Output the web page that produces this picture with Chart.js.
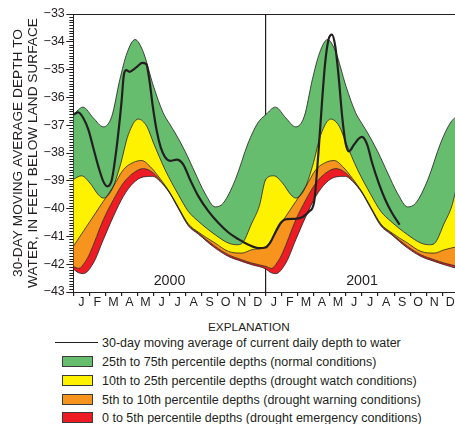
<!DOCTYPE html>
<html><head><meta charset="utf-8">
<script src="https://cdn.jsdelivr.net/npm/chart.js@4/dist/chart.umd.min.js"></script>
<style>
html,body{margin:0;padding:0;background:#fff;overflow:hidden;width:455px;height:424px;}
#c{position:absolute;left:0;top:0;}
.lg{position:absolute;font-family:'Liberation Sans',Arial,sans-serif;color:#231f20;font-size:12.5px;line-height:14px;white-space:nowrap;}
.sw{position:absolute;box-sizing:border-box;border:1px solid #3a3a3a;}
.ln{position:absolute;height:0;border-top:1.6px solid #231f20;}
</style></head>
<body>
<canvas id="c" width="460" height="310"></canvas>
<div class="lg" style="left:208px;top:320px;font-size:11.8px;">EXPLANATION</div>
<div class="ln" style="left:55px;top:342px;width:43px;"></div>
<div class="lg" style="left:102px;top:336px;">30-day moving average of current daily depth to water</div>
<div class="sw" style="left:62px;top:356px;width:31px;height:11px;background:#66bd6e;"></div>
<div class="lg" style="left:102px;top:355px;">25th to 75th percentile depths (normal conditions)</div>
<div class="sw" style="left:62px;top:375px;width:31px;height:11px;background:#fff200;"></div>
<div class="lg" style="left:102px;top:374px;">10th to 25th percentile depths (drought watch conditions)</div>
<div class="sw" style="left:62px;top:394px;width:31px;height:11px;background:#f7941d;"></div>
<div class="lg" style="left:102px;top:392.5px;">5th to 10th percentile depths (drought warning conditions)</div>
<div class="sw" style="left:62px;top:412px;width:31px;height:11px;background:#ed1c24;"></div>
<div class="lg" style="left:102px;top:410.5px;">0 to 5th percentile depths (drought emergency conditions)</div>
<script>
const monthLetters = ['J','F','M','A','M','J','J','A','S','O','N','D'];
const yearLabels = ['2000','2001'];
const yTicks = [-43,-42,-41,-40,-39,-38,-37,-36,-35,-34,-33];

// Seasonal percentile boundaries: [month of year, depth to water (ft)]
const p75 = [[0,-36.62],[0.6,-36.35],[1.25,-36.74],[1.87,-37.06],[2.4,-36.68],[2.9,-35.36],[3.35,-34.4],[3.85,-33.92],[4.35,-34.35],[5.0,-35.6],[5.6,-36.55],[6.0,-36.95],[6.35,-37.28],[6.97,-37.94],[7.6,-38.72],[8.2,-39.44],[8.85,-39.94],[9.35,-39.8],[10.1,-38.96],[10.9,-37.64],[11.5,-36.92],[12,-36.62]];
const p25 = [[0,-38.95],[0.5,-38.82],[1.04,-39.08],[1.56,-39.5],[1.87,-39.62],[2.4,-39.32],[2.91,-38.48],[3.43,-37.34],[4.05,-36.78],[4.58,-37.04],[5.0,-37.64],[5.72,-38.6],[6.55,-39.5],[7.17,-40.1],[7.8,-40.46],[8.84,-40.94],[9.67,-41.24],[10.2,-41.3],[10.5,-41.26],[11.13,-40.52],[11.6,-39.9],[12,-38.95]];
const p10 = [[0,-41.36],[1.04,-40.46],[1.87,-39.74],[2.5,-39.2],[3.12,-38.6],[3.74,-38.34],[4.27,-38.27],[4.78,-38.48],[5.41,-38.92],[6.0,-39.4],[6.55,-39.95],[7.17,-40.55],[7.8,-40.85],[8.84,-41.24],[9.67,-41.54],[10.5,-41.6],[11.13,-41.48],[12,-41.36]];
const p5 = [[0,-42.08],[0.35,-42.15],[0.7,-41.95],[1.04,-41.6],[1.87,-40.4],[2.5,-39.68],[3.12,-39.08],[3.74,-38.72],[4.37,-38.56],[4.99,-38.72],[5.41,-38.98],[6.0,-39.42],[6.55,-39.98],[7.17,-40.58],[7.8,-40.88],[8.84,-41.36],[9.67,-41.66],[10.5,-41.84],[11.13,-41.96],[12,-42.08]];
const p0 = [[0,-42.17],[0.3,-42.3],[0.62,-42.34],[1.25,-41.96],[1.87,-41.12],[2.5,-40.28],[3.12,-39.56],[3.74,-39.08],[4.37,-38.86],[4.95,-38.84],[5.41,-39.02],[6.0,-39.44],[6.55,-40.0],[7.17,-40.62],[7.8,-40.92],[8.84,-41.42],[9.67,-41.72],[10.5,-41.9],[11.13,-42.02],[12,-42.17]];

// 30-day moving average, [months since Jan 1 2000, depth]
const movingAvg = [[0,-36.62],[0.31,-36.54],[0.62,-36.74],[0.94,-37.16],[1.25,-37.82],[1.56,-38.48],[1.87,-39.02],[2.12,-39.2],[2.4,-38.96],[2.71,-37.76],[3.0,-36.2],[3.15,-35.2],[3.3,-35.02],[3.5,-35.08],[3.7,-35.02],[4.0,-34.88],[4.3,-34.76],[4.55,-34.8],[4.75,-35.4],[4.95,-36.3],[5.2,-37.2],[5.45,-37.8],[5.72,-38.15],[6.03,-38.28],[6.45,-38.24],[6.86,-38.42],[7.28,-38.96],[7.8,-39.56],[8.43,-40.1],[9.05,-40.52],[9.67,-40.86],[10.29,-41.1],[10.92,-41.3],[11.54,-41.42],[12,-41.4],
 [12.3,-41.2],[12.6,-40.85],[12.95,-40.5],[13.3,-40.38],[13.8,-40.37],[14.3,-40.3],[14.7,-40.1],[15.0,-39.8],[15.28,-38.0],[15.5,-36.2],[15.7,-34.76],[15.91,-33.92],[16.12,-33.74],[16.33,-34.16],[16.54,-35.24],[16.76,-36.68],[16.97,-37.64],[17.18,-37.94],[17.5,-37.7],[17.8,-37.48],[18.0,-37.42],[18.32,-37.7],[18.63,-38.36],[19.04,-39.08],[19.45,-39.68],[19.87,-40.16],[20.34,-40.58]];

const INK = '#231f20';
const FONT = "'Liberation Sans', Arial, sans-serif";

function twoYears(arr){
  const a = arr.map(([m,v]) => ({x:m, y:v}));
  const b = arr.slice(1).map(([m,v]) => ({x:m+12, y:v}));
  return a.concat(b);
}
function band(label, arr, fillColor, fill){
  return {label, data: twoYears(arr), borderColor: INK, borderWidth: 0.8,
    backgroundColor: fillColor, fill, pointRadius: 0, cubicInterpolationMode: 'monotone'};
}

const extras = {
  id: 'extras',
  afterDraw(chart){
    const {ctx, chartArea, scales} = chart;
    const y = scales.y, x = scales.x;
    ctx.save();
    ctx.strokeStyle = INK; ctx.lineWidth = 1;
    // top frame
    ctx.beginPath(); ctx.moveTo(chartArea.left, chartArea.top + 0.5); ctx.lineTo(chartArea.right, chartArea.top + 0.5); ctx.stroke();
    // minor y ticks every 0.1 ft
    ctx.beginPath();
    for (let i = 0; i <= 100; i++){
      if (i % 10 === 0) continue;
      const py = Math.round(y.getPixelForValue(-43 + i/10)) + 0.5;
      ctx.moveTo(chartArea.left - 4, py); ctx.lineTo(chartArea.left, py);
    }
    ctx.stroke();
    // year labels
    ctx.fillStyle = INK; ctx.font = '14.3px ' + FONT; ctx.textAlign = 'center'; ctx.textBaseline = 'alphabetic';
    yearLabels.forEach((t, i) => ctx.fillText(t, x.getPixelForValue(6 + 12*i), y.getPixelForValue(-42.74)));
    ctx.restore();
  }
};

new Chart(document.getElementById('c'), {
  type: 'line',
  data: { datasets: [
    {label: '30-day moving average', data: movingAvg.map(([m,v]) => ({x:m, y:v})), borderColor: INK, borderWidth: 2.2,
      pointRadius: 0, fill: false, cubicInterpolationMode: 'monotone'},
    band('75th', p75, '#66bd6e', '+1'),
    band('25th', p25, '#fff200', '+1'),
    band('10th', p10, '#f7941d', '+1'),
    band('5th', p5, '#ed1c24', '+1'),
    band('0', p0, 'rgba(0,0,0,0)', false)
  ]},
  options: {
    responsive: false, animation: false, devicePixelRatio: 1,
    layout: { autoPadding: false, padding: {top: 14, left: 0, right: 1.7, bottom: 0} },
    plugins: { legend: {display: false}, tooltip: {enabled: false}, filler: {drawTime: 'beforeDatasetsDraw'} },
    scales: {
      x: {
        type: 'linear', min: 0, max: 24,
        afterBuildTicks: s => { const t = []; for (let k = 0; k <= 48; k++) t.push({value: k/2}); s.ticks = t; },
        afterFit: s => { s.height = 18; },
        ticks: { autoSkip: false, maxRotation: 0, padding: -1, color: INK, font: {family: FONT, size: 12.5},
          callback: v => (v % 1 === 0.5) ? monthLetters[Math.floor(v) % 12] : '' },
        grid: { drawOnChartArea: true, tickLength: 4,
          color: c => (c.tick && c.tick.value === 12) ? INK : 'rgba(0,0,0,0)',
          lineWidth: 1.2,
          tickColor: c => (c.tick && c.tick.value % 1 === 0) ? INK : 'rgba(0,0,0,0)' },
        border: { display: true, color: INK, width: 1 }
      },
      y: {
        type: 'linear', min: -43, max: -33,
        afterBuildTicks: s => { s.ticks = yTicks.map(v => ({value: v})); },
        afterFit: s => { s.width = 73.3; },
        ticks: { padding: 1.5, color: INK, font: {family: FONT, size: 12.5},
          callback: v => '\u2212' + Math.abs(v) },
        grid: { drawOnChartArea: false, tickLength: 7, tickColor: INK },
        border: { display: true, color: INK, width: 1 },
        title: { display: true, text: ['30-DAY MOVING AVERAGE DEPTH TO', 'WATER, IN FEET BELOW LAND SURFACE'],
          color: INK, font: {family: FONT, size: 13.7, lineHeight: 1.1}, padding: {top: 11, bottom: 0} }
      }
    }
  },
  plugins: [extras]
});
</script>
</body></html>
